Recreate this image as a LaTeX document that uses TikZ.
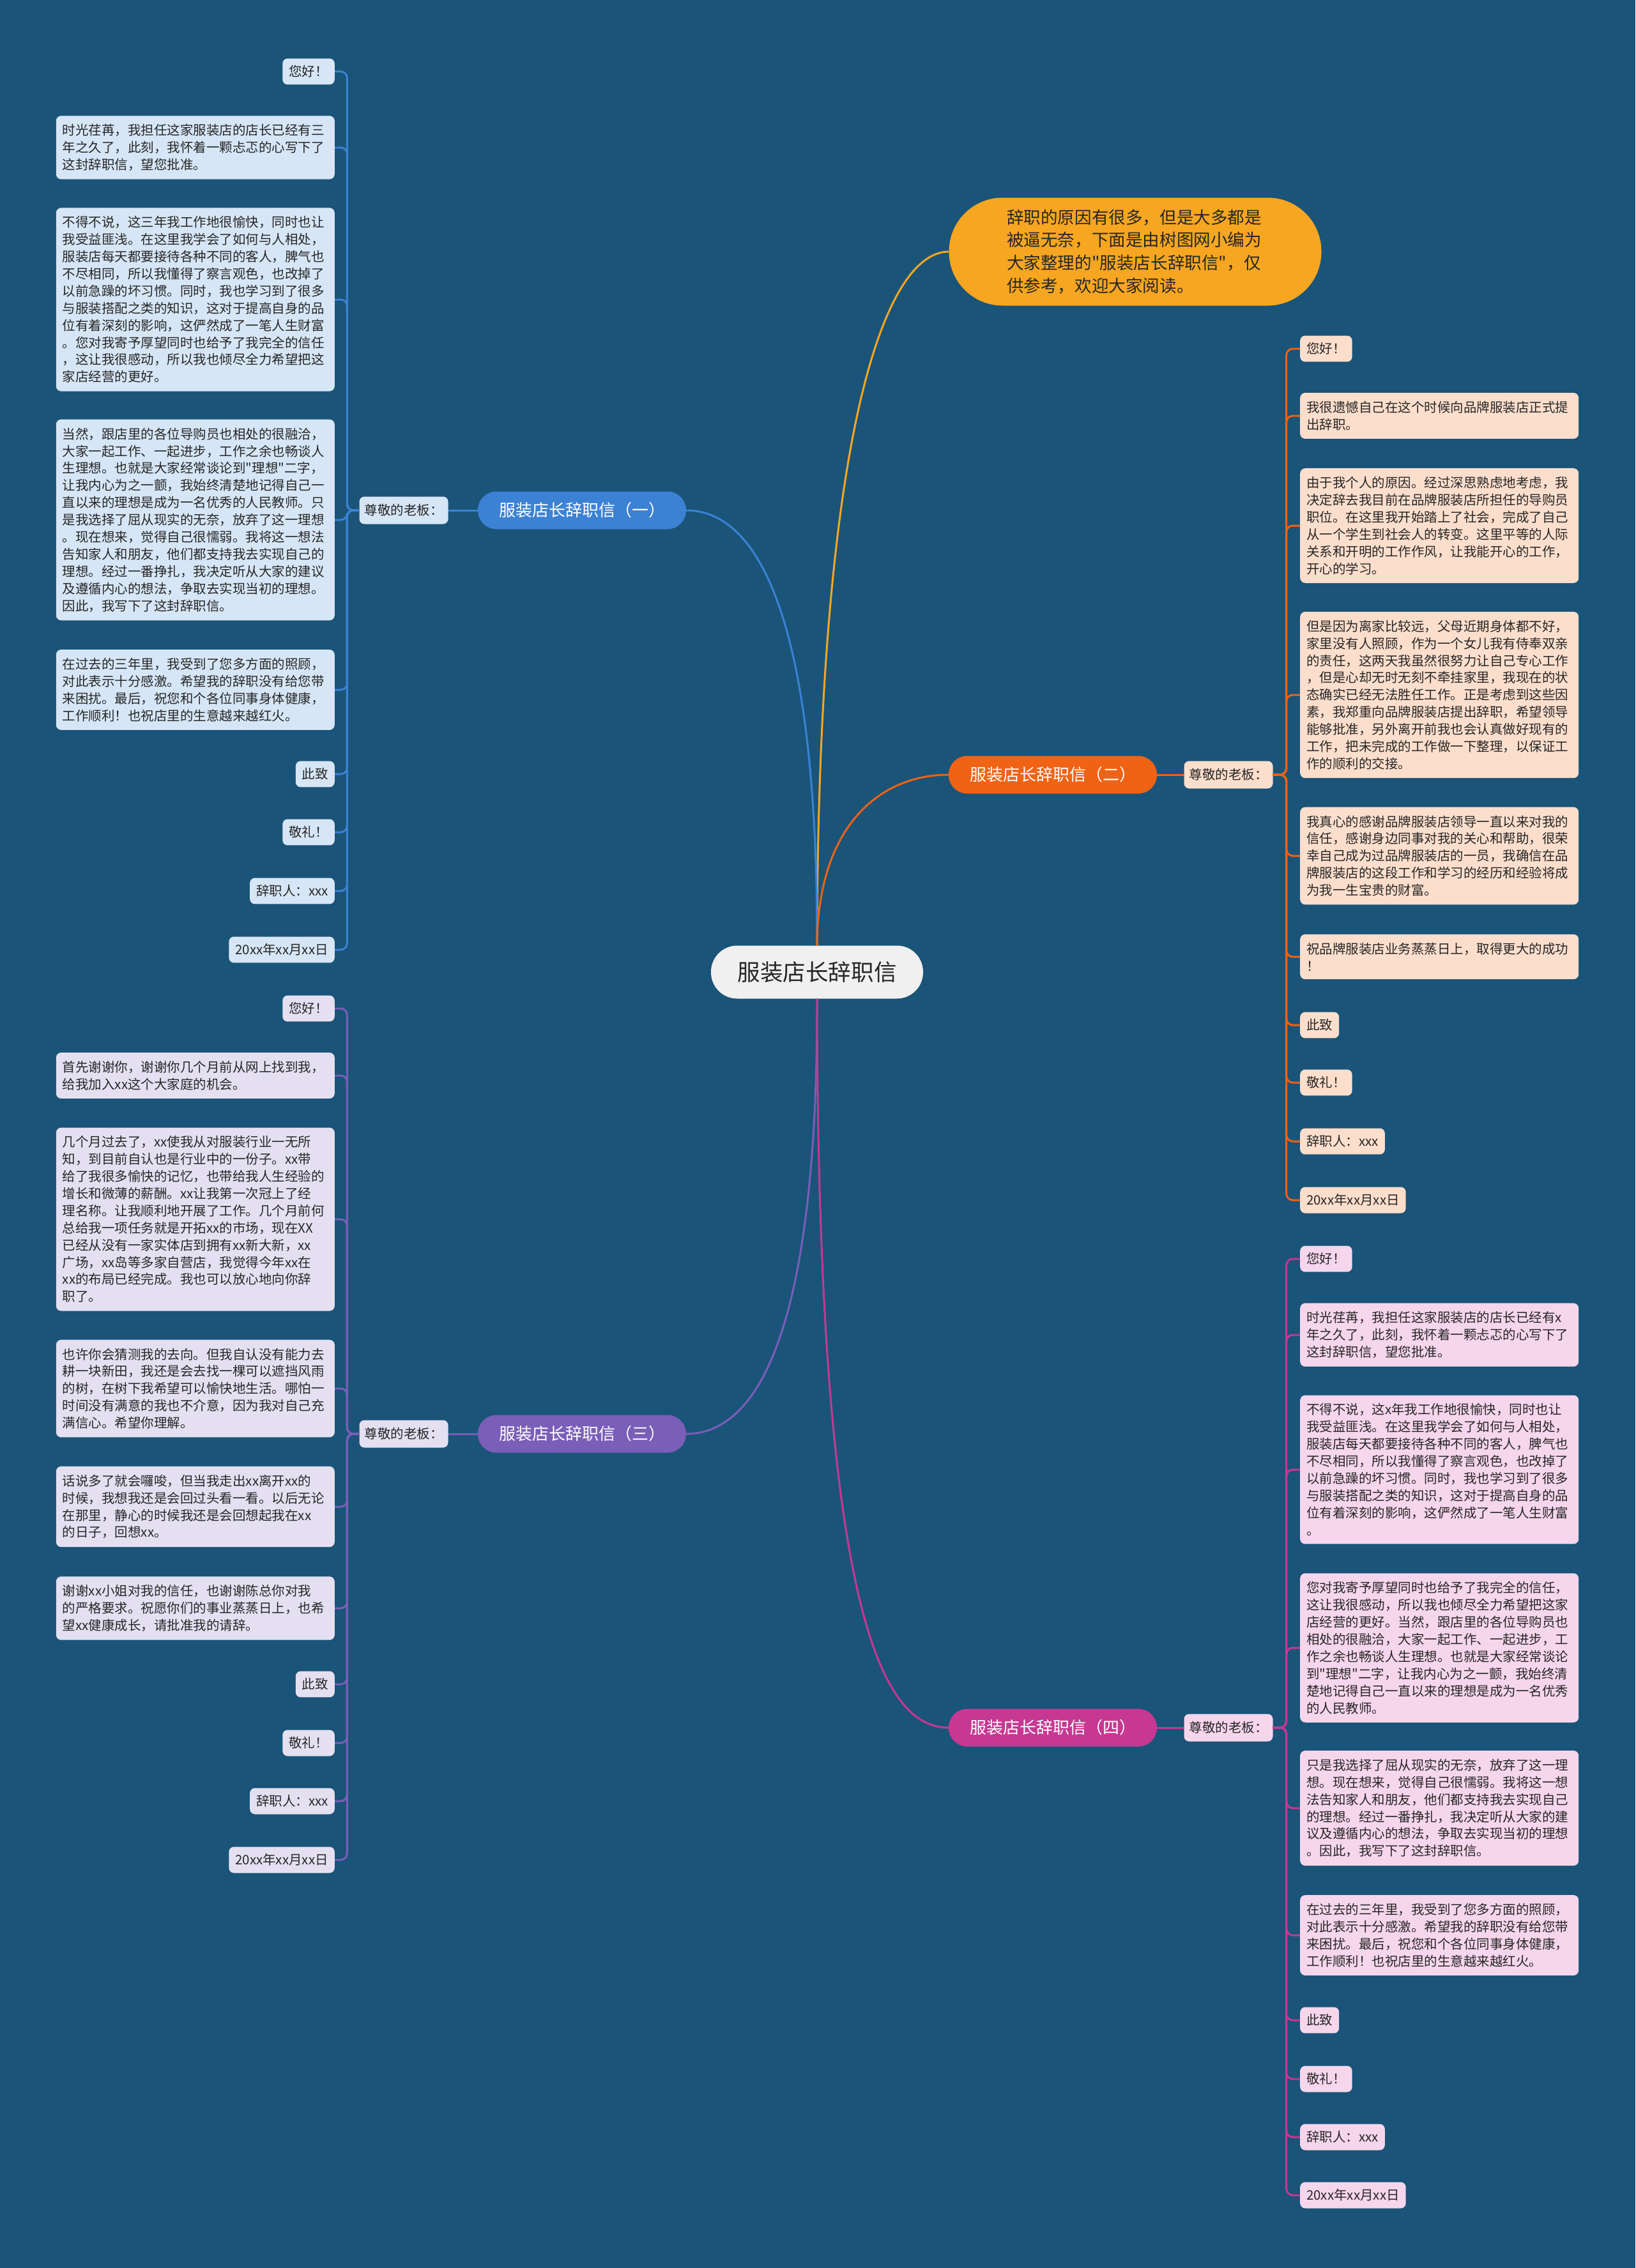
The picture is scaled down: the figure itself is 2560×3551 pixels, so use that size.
\documentclass[tikz,border=0pt]{standalone}
\usepackage{fontspec}
\newfontfamily\zhfont{Noto Sans CJK SC}

\definecolor{bgblue}{RGB}{26,84,120}
\definecolor{inkdark}{RGB}{38,38,38}
\definecolor{mainfill}{RGB}{240,240,240}
\definecolor{introfill}{RGB}{247,166,33}
\definecolor{blueline}{RGB}{59,130,212}
\definecolor{blueleaf}{RGB}{214,230,246}
\definecolor{orangeline}{RGB}{240,98,20}
\definecolor{peachleaf}{RGB}{252,222,204}
\definecolor{purpleline}{RGB}{122,94,184}
\definecolor{lilacleaf}{RGB}{228,224,242}
\definecolor{pinkline}{RGB}{198,56,146}
\definecolor{pinkleaf}{RGB}{246,214,236}

\tikzset{
  box/.style={rounded corners=8pt, inner xsep=10pt, inner ysep=11pt, text=inkdark,
    font=\zhfont\fontsize{20.5}{26.9}\selectfont},
  para/.style={box, inner ysep=13pt, text width=416pt, align=left},
  boss/.style={box, inner xsep=8pt, inner ysep=0pt, minimum height=43pt},
  branch/.style={rounded corners=29pt, minimum width=326pt, minimum height=59pt, text=white,
    font=\zhfont\fontsize{26}{30}\selectfont},
  link/.style={line width=3pt, rounded corners=10pt},
  curve/.style={line width=3pt},
}

\begin{document}
\begin{tikzpicture}[x=1pt,y=-1pt]
		\useasboundingbox (0,0) rectangle (2560,3551);
		\fill[bgblue] (0,0) rectangle (2560,3551);
		
		% Central topic and the introduction bubble
		\node[rounded corners=41pt, fill=mainfill, minimum width=332pt, minimum height=83pt, text=inkdark,
		  font=\zhfont\fontsize{35.6}{40}\selectfont] (main) at (1279,1522) {服装店长辞职信};
		\node[fill=introfill, rounded corners=84pt, minimum width=583pt, minimum height=169pt, text width=402pt,
		  align=left, text=inkdark, font=\zhfont\fontsize{26.6}{35.7}\selectfont] (intro) at (1777,394)
		  {辞职的原因有很多，但是大多都是\\被逼无奈，下面是由树图网小编为\\大家整理的"服装店长辞职信"，仅\\供参考，欢迎大家阅读。};
		
		% The four letters
		\node[branch, fill=blueline] (b1) at (911,799) {服装店长辞职信（一）};
		\node[branch, fill=orangeline] (b2) at (1648,1213) {服装店长辞职信（二）};
		\node[branch, fill=purpleline] (b3) at (911,2245) {服装店长辞职信（三）};
		\node[branch, fill=pinkline] (b4) at (1648,2705) {服装店长辞职信（四）};
		
		\node[boss, fill=blueleaf] (boss1) at (632,799) {尊敬的老板：};
		\node[boss, fill=peachleaf] (boss2) at (1923,1213) {尊敬的老板：};
		\node[boss, fill=lilacleaf] (boss3) at (632,2245) {尊敬的老板：};
		\node[boss, fill=pinkleaf] (boss4) at (1923,2705) {尊敬的老板：};
		
		% Curves from the central topic
		\draw[curve, introfill] (main.north) .. controls (1280,700) and (1380,394) .. (intro.west);
		\draw[curve, blueline] (main.north) .. controls (1280,950) and (1180,799) .. (b1.east);
		\draw[curve, orangeline] (main.north) .. controls (1280,1290) and (1380,1213) .. (b2.west);
		\draw[curve, purpleline] (main.south) .. controls (1280,2100) and (1180,2245) .. (b3.east);
		\draw[curve, pinkline] (main.south) .. controls (1280,2520) and (1380,2705) .. (b4.west);
		
		\draw[link, blueline] (b1.west) -- (boss1.east);
		\draw[link, orangeline] (b2.east) -- (boss2.west);
		\draw[link, purpleline] (b3.west) -- (boss3.east);
		\draw[link, pinkline] (b4.east) -- (boss4.west);
		
		% Letter one (left, top)
		\node[box, fill=blueleaf, anchor=east] (l1a) at (524,112) {您好！};
		\node[para, fill=blueleaf, anchor=east] (l1b) at (524,231) {时光荏苒，我担任这家服装店的店长已经有三\\年之久了，此刻，我怀着一颗忐忑的心写下了\\这封辞职信，望您批准。};
		\node[para, fill=blueleaf, anchor=east] (l1c) at (524,469) {不得不说，这三年我工作地很愉快，同时也让\\我受益匪浅。在这里我学会了如何与人相处，\\服装店每天都要接待各种不同的客人，脾气也\\不尽相同，所以我懂得了察言观色，也改掉了\\以前急躁的坏习惯。同时，我也学习到了很多\\与服装搭配之类的知识，这对于提高自身的品\\位有着深刻的影响，这俨然成了一笔人生财富\\。您对我寄予厚望同时也给予了我完全的信任\\，这让我很感动，所以我也倾尽全力希望把这\\家店经营的更好。};
		\node[para, fill=blueleaf, anchor=east] (l1d) at (524,814) {当然，跟店里的各位导购员也相处的很融洽，\\大家一起工作、一起进步，工作之余也畅谈人\\生理想。也就是大家经常谈论到"理想"二字，\\让我内心为之一颤，我始终清楚地记得自己一\\直以来的理想是成为一名优秀的人民教师。只\\是我选择了屈从现实的无奈，放弃了这一理想\\。现在想来，觉得自己很懦弱。我将这一想法\\告知家人和朋友，他们都支持我去实现自己的\\理想。经过一番挣扎，我决定听从大家的建议\\及遵循内心的想法，争取去实现当初的理想。\\因此，我写下了这封辞职信。};
		\node[para, fill=blueleaf, anchor=east] (l1e) at (524,1080) {在过去的三年里，我受到了您多方面的照顾，\\对此表示十分感激。希望我的辞职没有给您带\\来困扰。最后，祝您和个各位同事身体健康，\\工作顺利！也祝店里的生意越来越红火。};
		\node[box, fill=blueleaf, anchor=east] (l1f) at (524,1212) {此致};
		\node[box, fill=blueleaf, anchor=east] (l1g) at (524,1303) {敬礼！};
		\node[box, fill=blueleaf, anchor=east] (l1h) at (524,1395) {辞职人：xxx};
		\node[box, fill=blueleaf, anchor=east] (l1i) at (524,1487) {20xx年xx月xx日};
		\foreach \n in {a,b,c,d,e,f,g,h,i}
		  \draw[link, blueline] (boss1.west) -- ++(-19,0) |- (l1\n.east);
		
		% Letter two (right, top)
		\node[box, fill=peachleaf, anchor=west] (r2a) at (2035,546) {您好！};
		\node[para, fill=peachleaf, anchor=west] (r2b) at (2035,651) {我很遗憾自己在这个时候向品牌服装店正式提\\出辞职。};
		\node[para, fill=peachleaf, anchor=west] (r2c) at (2035,823) {由于我个人的原因。经过深思熟虑地考虑，我\\决定辞去我目前在品牌服装店所担任的导购员\\职位。在这里我开始踏上了社会，完成了自己\\从一个学生到社会人的转变。这里平等的人际\\关系和开明的工作作风，让我能开心的工作，\\开心的学习。};
		\node[para, fill=peachleaf, anchor=west] (r2d) at (2035,1088) {但是因为离家比较远，父母近期身体都不好，\\家里没有人照顾，作为一个女儿我有侍奉双亲\\的责任，这两天我虽然很努力让自己专心工作\\，但是心却无时无刻不牵挂家里，我现在的状\\态确实已经无法胜任工作。正是考虑到这些因\\素，我郑重向品牌服装店提出辞职，希望领导\\能够批准，另外离开前我也会认真做好现有的\\工作，把未完成的工作做一下整理，以保证工\\作的顺利的交接。};
		\node[para, fill=peachleaf, anchor=west] (r2e) at (2035,1340) {我真心的感谢品牌服装店领导一直以来对我的\\信任，感谢身边同事对我的关心和帮助，很荣\\幸自己成为过品牌服装店的一员，我确信在品\\牌服装店的这段工作和学习的经历和经验将成\\为我一生宝贵的财富。};
		\node[para, fill=peachleaf, anchor=west] (r2f) at (2035,1498) {祝品牌服装店业务蒸蒸日上，取得更大的成功\\！};
		\node[box, fill=peachleaf, anchor=west] (r2g) at (2035,1605) {此致};
		\node[box, fill=peachleaf, anchor=west] (r2h) at (2035,1695) {敬礼！};
		\node[box, fill=peachleaf, anchor=west] (r2i) at (2035,1787) {辞职人：xxx};
		\node[box, fill=peachleaf, anchor=west] (r2j) at (2035,1879) {20xx年xx月xx日};
		\foreach \n in {a,b,c,d,e,f,g,h,i,j}
		  \draw[link, orangeline] (boss2.east) -- ++(21,0) |- (r2\n.west);
		
		% Letter three (left, bottom)
		\node[box, fill=lilacleaf, anchor=east] (l3a) at (524,1579) {您好！};
		\node[para, fill=lilacleaf, anchor=east] (l3b) at (524,1684) {首先谢谢你，谢谢你几个月前从网上找到我，\\给我加入xx这个大家庭的机会。};
		\node[para, fill=lilacleaf, anchor=east] (l3c) at (524,1909) {几个月过去了，xx使我从对服装行业一无所\\知，到目前自认也是行业中的一份子。xx带\\给了我很多愉快的记忆，也带给我人生经验的\\增长和微薄的薪酬。xx让我第一次冠上了经\\理名称。让我顺利地开展了工作。几个月前何\\总给我一项任务就是开拓xx的市场，现在XX\\已经从没有一家实体店到拥有xx新大新，xx\\广场，xx岛等多家自营店，我觉得今年xx在\\xx的布局已经完成。我也可以放心地向你辞\\职了。};
		\node[para, fill=lilacleaf, anchor=east] (l3d) at (524,2174) {也许你会猜测我的去向。但我自认没有能力去\\耕一块新田，我还是会去找一棵可以遮挡风雨\\的树，在树下我希望可以愉快地生活。哪怕一\\时间没有满意的我也不介意，因为我对自己充\\满信心。希望你理解。};
		\node[para, fill=lilacleaf, anchor=east] (l3e) at (524,2359) {话说多了就会囉唆，但当我走出xx离开xx的\\时候，我想我还是会回过头看一看。以后无论\\在那里，静心的时候我还是会回想起我在xx\\的日子，回想xx。};
		\node[para, fill=lilacleaf, anchor=east] (l3f) at (524,2518) {谢谢xx小姐对我的信任，也谢谢陈总你对我\\的严格要求。祝愿你们的事业蒸蒸日上，也希\\望xx健康成长，请批准我的请辞。};
		\node[box, fill=lilacleaf, anchor=east] (l3g) at (524,2637) {此致};
		\node[box, fill=lilacleaf, anchor=east] (l3h) at (524,2729) {敬礼！};
		\node[box, fill=lilacleaf, anchor=east] (l3i) at (524,2820) {辞职人：xxx};
		\node[box, fill=lilacleaf, anchor=east] (l3j) at (524,2912) {20xx年xx月xx日};
		\foreach \n in {a,b,c,d,e,f,g,h,i,j}
		  \draw[link, purpleline] (boss3.west) -- ++(-19,0) |- (l3\n.east);
		
		% Letter four (right, bottom)
		\node[box, fill=pinkleaf, anchor=west] (r4a) at (2035,1971) {您好！};
		\node[para, fill=pinkleaf, anchor=west] (r4b) at (2035,2090) {时光荏苒，我担任这家服装店的店长已经有x\\年之久了，此刻，我怀着一颗忐忑的心写下了\\这封辞职信，望您批准。};
		\node[para, fill=pinkleaf, anchor=west] (r4c) at (2035,2301) {不得不说，这x年我工作地很愉快，同时也让\\我受益匪浅。在这里我学会了如何与人相处，\\服装店每天都要接待各种不同的客人，脾气也\\不尽相同，所以我懂得了察言观色，也改掉了\\以前急躁的坏习惯。同时，我也学习到了很多\\与服装搭配之类的知识，这对于提高自身的品\\位有着深刻的影响，这俨然成了一笔人生财富\\。};
		\node[para, fill=pinkleaf, anchor=west] (r4d) at (2035,2580) {您对我寄予厚望同时也给予了我完全的信任，\\这让我很感动，所以我也倾尽全力希望把这家\\店经营的更好。当然，跟店里的各位导购员也\\相处的很融洽，大家一起工作、一起进步，工\\作之余也畅谈人生理想。也就是大家经常谈论\\到"理想"二字，让我内心为之一颤，我始终清\\楚地记得自己一直以来的理想是成为一名优秀\\的人民教师。};
		\node[para, fill=pinkleaf, anchor=west] (r4e) at (2035,2831) {只是我选择了屈从现实的无奈，放弃了这一理\\想。现在想来，觉得自己很懦弱。我将这一想\\法告知家人和朋友，他们都支持我去实现自己\\的理想。经过一番挣扎，我决定听从大家的建\\议及遵循内心的想法，争取去实现当初的理想\\。因此，我写下了这封辞职信。};
		\node[para, fill=pinkleaf, anchor=west] (r4f) at (2035,3030) {在过去的三年里，我受到了您多方面的照顾，\\对此表示十分感激。希望我的辞职没有给您带\\来困扰。最后，祝您和个各位同事身体健康，\\工作顺利！也祝店里的生意越来越红火。};
		\node[box, fill=pinkleaf, anchor=west] (r4g) at (2035,3163) {此致};
		\node[box, fill=pinkleaf, anchor=west] (r4h) at (2035,3255) {敬礼！};
		\node[box, fill=pinkleaf, anchor=west] (r4i) at (2035,3346) {辞职人：xxx};
		\node[box, fill=pinkleaf, anchor=west] (r4j) at (2035,3437) {20xx年xx月xx日};
		\foreach \n in {a,b,c,d,e,f,g,h,i,j}
		  \draw[link, pinkline] (boss4.east) -- ++(21,0) |- (r4\n.west);
		
	\end{tikzpicture}
\end{document}
